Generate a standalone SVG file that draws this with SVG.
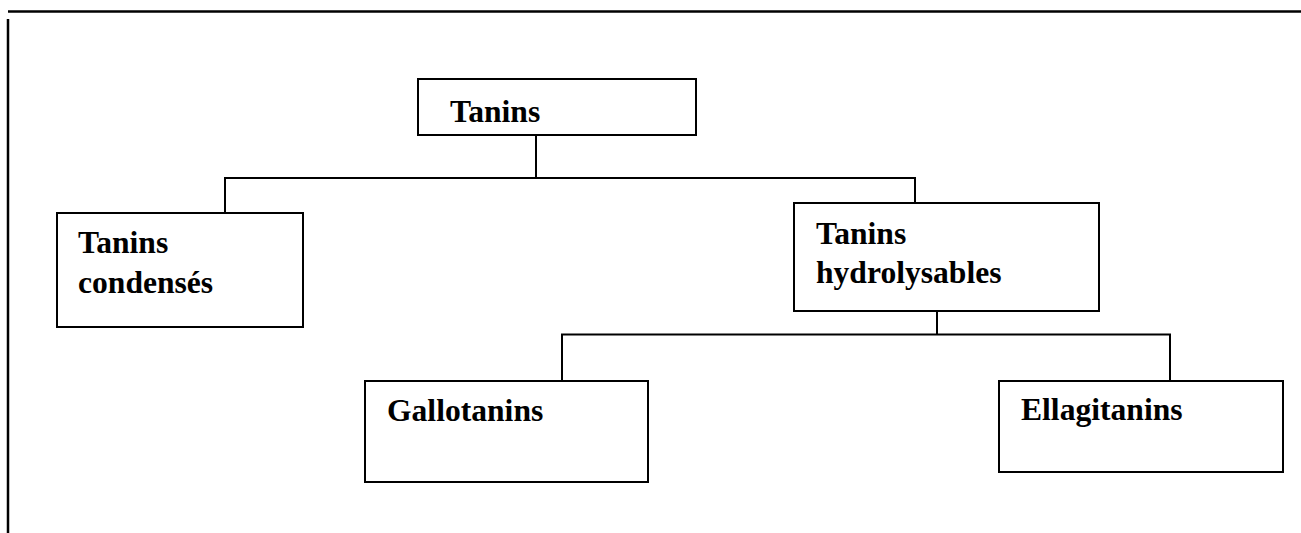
<svg xmlns="http://www.w3.org/2000/svg" width="1301" height="533" viewBox="0 0 1301 533">
<style>
.box{fill:#fff;stroke:#000;stroke-width:2}
.ln{fill:none;stroke:#000;stroke-width:2}
.t{font-family:"Liberation Serif","Times New Roman",serif;font-weight:bold;font-size:31.6px;fill:#000}
</style>
<rect width="1301" height="533" fill="#fff"/>
<g id="frame">
<line x1="8" y1="11.5" x2="1301" y2="11.5" stroke="#000" stroke-width="2.5"/>
<line x1="8" y1="19" x2="8" y2="533" stroke="#000" stroke-width="2.5"/>
</g>
<g id="connectors">
<polyline class="ln" points="536,135 536,178"/>
<polyline class="ln" points="225,213 225,178 915,178 915,203"/>
<polyline class="ln" points="937,311 937,334"/>
<polyline class="ln" points="562,381 562,334.5 1170,334.5 1170,381"/>
</g>
<g id="n-tanins">
<rect class="box" x="418" y="79" width="278" height="56"/>
<text class="t" x="450" y="122">Tanins</text>
</g>
<g id="n-condenses">
<rect class="box" x="57" y="213" width="246" height="114"/>
<text class="t" x="78" y="253">Tanins</text>
<text class="t" x="78" y="293">condensés</text>
</g>
<g id="n-hydrolysables">
<rect class="box" x="794" y="203" width="305" height="108"/>
<text class="t" x="816" y="244">Tanins</text>
<text class="t" x="816" y="283">hydrolysables</text>
</g>
<g id="n-gallotanins">
<rect class="box" x="365" y="381" width="283" height="101"/>
<text class="t" x="387" y="421">Gallotanins</text>
</g>
<g id="n-ellagitanins">
<rect class="box" x="999" y="381" width="284" height="91"/>
<text class="t" x="1021" y="420">Ellagitanins</text>
</g>
</svg>
